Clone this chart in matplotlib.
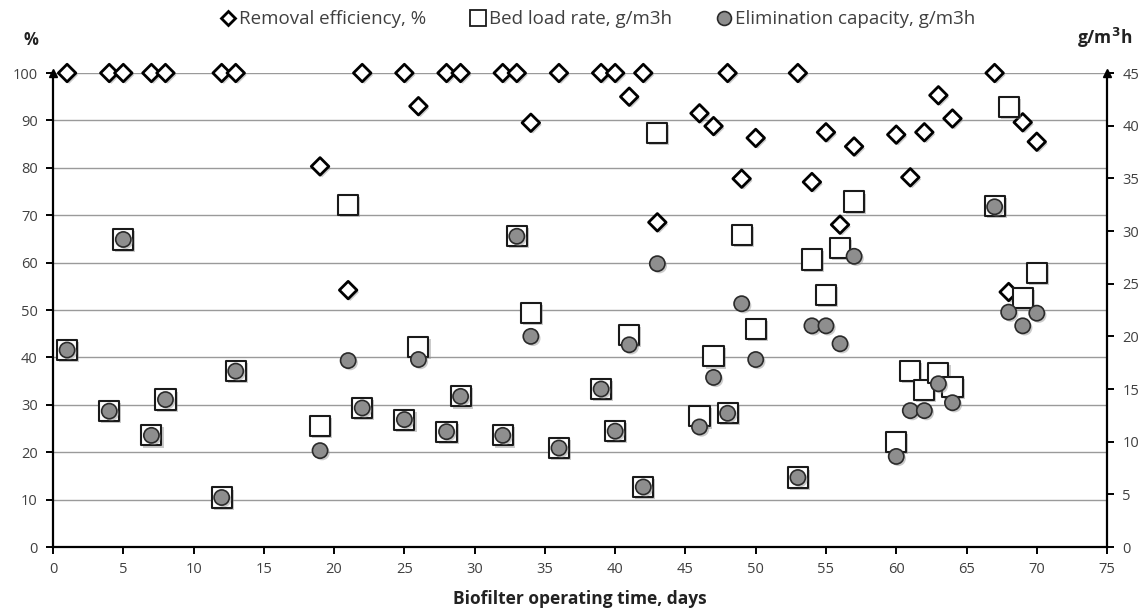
import matplotlib
matplotlib.use("Agg")
import matplotlib.pyplot as plt
import matplotlib.patheffects as pe
from matplotlib.lines import Line2D

plt.rcParams["font.family"] = ["Open Sans", "DejaVu Sans"]

# removal efficiency, % (left axis)
RE_DAYS = [1, 4, 5, 7, 8, 12, 13, 19, 21, 22, 25, 26, 28, 29, 32, 33, 34, 36,
           39, 40, 41, 42, 43, 46, 47, 48, 49, 50, 53, 54, 55, 56, 57, 60, 61,
           62, 63, 64, 67, 68, 69, 70]
RE_VALS = [100, 100, 100, 100, 100, 100, 100, 80.3, 54.2, 100, 100, 93.0, 100,
           100, 100, 100, 89.5, 100, 100, 100, 95.0, 100, 68.5, 91.5, 88.8, 100,
           77.7, 86.3, 100, 77.0, 87.5, 68.0, 84.5, 87.0, 78.0, 87.5, 95.3,
           90.4, 100, 53.8, 89.6, 85.5]

# bed load rate and elimination capacity, g/m3h (right axis)
DAYS = RE_DAYS
BLR = [18.7, 12.9, 29.2, 10.6, 14.0, 4.7, 16.7, 11.5, 32.5, 13.2, 12.1, 19.0,
       10.95, 14.3, 10.6, 29.5, 22.25, 9.4, 15.0, 11.0, 20.1, 5.7, 39.3, 12.4,
       18.1, 12.7, 29.6, 20.7, 6.6, 27.3, 23.9, 28.4, 32.8, 10.0, 16.75, 14.9,
       16.5, 15.2, 32.4, 41.8, 23.6, 26.05]
EC = [18.7, 12.9, 29.2, 10.6, 14.0, 4.7, 16.7, 9.15, 17.7, 13.2, 12.1, 17.8,
      10.95, 14.3, 10.6, 29.5, 20.0, 9.4, 15.0, 11.0, 19.2, 5.7, 26.9, 11.4,
      16.1, 12.7, 23.1, 17.8, 6.6, 21.0, 21.0, 19.3, 27.6, 8.6, 12.95, 12.95,
      15.5, 13.7, 32.3, 22.3, 21.0, 22.2]

LEFT_TICKS = list(range(0, 101, 10))
RIGHT_TICKS = list(range(0, 46, 5))
X_TICKS = list(range(0, 76, 5))

TXT = "#404040"
shadow = [pe.SimplePatchShadow(offset=(1.5, -1.5), shadow_rgbFace="0.55", alpha=0.45),
          pe.Normal()]

fig = plt.figure(figsize=(11.38, 6.08), dpi=100)
ax = fig.add_axes([0.0466, 0.1003, 0.9262, 0.7796])
ax2 = ax.twinx()

ax.set_xlim(0, 75)
ax.set_ylim(0, 100)
ax2.set_ylim(0, 45)

ax.set_yticks(LEFT_TICKS)
ax.set_xticks(X_TICKS)
ax2.set_yticks(RIGHT_TICKS)
ax.grid(axis="y", color="#9a9a9a", lw=1.0)
ax.set_axisbelow(True)

for a in (ax, ax2):
    for s in a.spines.values():
        s.set_visible(False)
ax.spines["left"].set_visible(True)
ax.spines["bottom"].set_visible(True)
ax2.spines["right"].set_visible(True)
for s in (ax.spines["left"], ax.spines["bottom"], ax2.spines["right"]):
    s.set_linewidth(1.6)
    s.set_color("black")

ax.tick_params(axis="both", direction="out", length=5, width=1.4, color="black",
               labelsize=10.5, labelcolor=TXT, pad=6)
ax2.tick_params(axis="y", direction="out", length=5, width=1.4, color="black",
                labelsize=10.5, labelcolor=TXT, pad=6)

# arrow heads on the vertical axes
ax.plot([0], [1], marker="^", color="black", ms=6, transform=ax.transAxes, clip_on=False)
ax.plot([1], [1], marker="^", color="black", ms=6, transform=ax.transAxes, clip_on=False)

ax.scatter(RE_DAYS, RE_VALS, marker="D", s=80, facecolor="white", edgecolor="black",
           linewidth=2.0, zorder=3, path_effects=shadow, clip_on=False)
ax2.scatter(DAYS, BLR, marker="s", s=210, facecolor="white", edgecolor="#1a1a1a",
            linewidth=1.5, zorder=3, path_effects=shadow)
ax2.scatter(DAYS, EC, marker="o", s=120, facecolor="#8e8e8e", edgecolor="#2a2a2a",
            linewidth=1.2, zorder=4, path_effects=shadow)

ax.set_xlabel("Biofilter operating time, days", fontsize=12.5, fontweight="bold",
              color="#222222", labelpad=9)
fig.text(0.027, 0.935, "%", fontsize=12, fontweight="bold", color="#222222",
         ha="center", va="center")
fig.text(0.971, 0.937, "g/m$^\\mathbf{3}$h", fontsize=12.5, fontweight="bold",
         color="#222222", ha="center", va="center")

handles = [
    Line2D([], [], ls="none", marker="D", ms=7, mfc="white", mec="black", mew=2.0),
    Line2D([], [], ls="none", marker="s", ms=12, mfc="white", mec="#1a1a1a", mew=1.3),
    Line2D([], [], ls="none", marker="o", ms=10, mfc="#8e8e8e", mec="#2a2a2a", mew=1.2),
]
labels = ["Removal efficiency, %", "Bed load rate, g/m3h", "Elimination capacity, g/m3h"]
fig.legend(handles, labels, loc="center", bbox_to_anchor=(0.524, 0.968), ncol=3,
           frameon=False, fontsize=13.5, handletextpad=0.05, columnspacing=2.2,
           handlelength=1.1, labelcolor=TXT)

fig.savefig("out.png", dpi=100)
